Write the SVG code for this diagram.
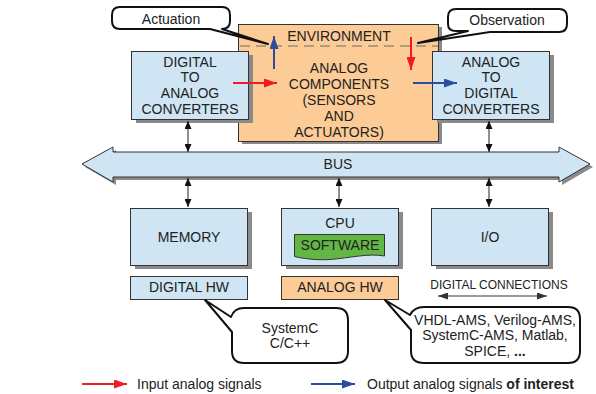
<svg xmlns="http://www.w3.org/2000/svg" width="596" height="394" viewBox="0 0 596 394">
<style>
text{font-family:"Liberation Sans",Arial,sans-serif;font-size:14px;fill:#222;text-anchor:middle}
.blue{fill:#cfe5f3;stroke:#333;stroke-width:1}
.orange{fill:#fdcb96;stroke:#333;stroke-width:1}
.shadow{fill:#8a8a8a}
.callout{fill:#fff;stroke:#111;stroke-width:2;stroke-linejoin:round}
.conn{stroke:#222;stroke-width:1;fill:none}
</style>
<defs>
<marker id="bh" markerUnits="userSpaceOnUse" markerWidth="8" markerHeight="7" refX="8" refY="3.5" orient="auto-start-reverse"><path d="M0,0 L8,3.5 L0,7 Z" fill="#111"/></marker>
<marker id="gh" markerUnits="userSpaceOnUse" markerWidth="10" markerHeight="7" refX="10" refY="3.5" orient="auto-start-reverse"><path d="M0,0 L10,3.5 L0,7 Z" fill="#333"/></marker>
<marker id="rh" markerUnits="userSpaceOnUse" markerWidth="13" markerHeight="9" refX="13" refY="4.5" orient="auto"><path d="M0,0 L13,4.5 L0,9 Z" fill="#ee1c24"/></marker>
<marker id="uh" markerUnits="userSpaceOnUse" markerWidth="13" markerHeight="9" refX="13" refY="4.5" orient="auto"><path d="M0,0 L13,4.5 L0,9 Z" fill="#2b4d9e"/></marker>
</defs>

<g id="environment">
<rect class="shadow" x="242" y="27" width="200" height="117"/>
<rect class="orange" x="238.5" y="24.5" width="200" height="117"/>
<line x1="240" y1="46" x2="438" y2="46" stroke="#6a6a6a" stroke-width="1.2" stroke-dasharray="10,6"/>
<text x="339" y="41">ENVIRONMENT</text>
<text x="339" y="73">ANALOG</text>
<text x="339" y="89">COMPONENTS</text>
<text x="339" y="105">(SENSORS</text>
<text x="339" y="121">AND</text>
<text x="339" y="137">ACTUATORS)</text>
</g>

<g id="dac">
<rect class="shadow" x="136" y="55" width="117" height="68"/>
<rect class="blue" x="131.5" y="51.5" width="117" height="68"/>
<text x="190" y="67">DIGITAL</text>
<text x="190" y="82">TO</text>
<text x="190" y="98">ANALOG</text>
<text x="190" y="114">CONVERTERS</text>
</g>

<g id="adc">
<rect class="shadow" x="437" y="55" width="117" height="68"/>
<rect class="blue" x="432.5" y="51.5" width="117" height="68"/>
<text x="491" y="67">ANALOG</text>
<text x="491" y="82">TO</text>
<text x="491" y="98">DIGITAL</text>
<text x="491" y="114">CONVERTERS</text>
</g>

<g id="actuation">
<path class="callout" d="M120,7 H222 Q230,7 230,15 V21 Q230,29 222,29 L268,44 L210,29 H120 Q112,29 112,21 V15 Q112,7 120,7 Z"/>
<text x="171" y="24">Actuation</text>
</g>

<g id="observation">
<path class="callout" d="M456,9 H559 Q567,9 567,17 V24 Q567,32 559,32 H490 L418,43 L468,31 H456 Q448,31 448,24 V17 Q448,9 456,9 Z"/>
<text x="507" y="25">Observation</text>
</g>

<g id="bus">
<polygon class="shadow" points="85,167 116,150 116,155 562,155 562,150 593,167 562,185 562,180 116,180 116,185"/>
<polygon fill="#cfe5f3" stroke="#333" stroke-width="1" points="82,164 113,147 113,152 559,152 559,147 590,164 559,182 559,177 113,177 113,182"/>
<text x="338" y="169">BUS</text>
</g>

<g id="memory">
<rect class="shadow" x="135" y="212" width="117" height="57"/>
<rect class="blue" x="130.5" y="208.5" width="117" height="57"/>
<text x="189" y="242">MEMORY</text>
</g>

<g id="cpu">
<rect class="shadow" x="286" y="212" width="117" height="57"/>
<rect class="blue" x="281.5" y="208.5" width="117" height="57"/>
<text x="340" y="228">CPU</text>
<path d="M294.5,234.5 H384.5 V256 C368,253 350,258 330,259.5 C315,260.5 300,258 294.5,256.5 Z" fill="#62b744" stroke="#333" stroke-width="1"/>
<text x="340" y="250">SOFTWARE</text>
</g>

<g id="io">
<rect class="shadow" x="436" y="212" width="117" height="57"/>
<rect class="blue" x="431.5" y="208.5" width="117" height="57"/>
<text x="490" y="242">I/O</text>
</g>

<g id="digital-hw">
<rect class="blue" x="130.5" y="276.5" width="117" height="23"/>
<text x="189" y="292">DIGITAL HW</text>
</g>

<g id="analog-hw">
<rect class="orange" x="281.5" y="276.5" width="117" height="23"/>
<text x="340" y="292">ANALOG HW</text>
</g>

<g id="digital-connections">
<text x="499" y="289" style="font-size:12px">DIGITAL CONNECTIONS</text>
<line x1="438" y1="296" x2="547" y2="296" stroke="#333" stroke-width="1" marker-start="url(#gh)" marker-end="url(#gh)"/>
</g>

<g id="systemc">
<path class="callout" d="M244,308 H336 Q348,308 348,320 V351 Q348,363 336,363 H244 Q232,363 232,351 V332 L205,300 L231,317 Q234,308 244,308 Z"/>
<text x="290" y="333">SystemC</text>
<text x="290" y="348">C/C++</text>
</g>

<g id="languages">
<path class="callout" d="M424,307 H568 Q580,307 580,319 V351 Q580,363 568,363 H424 Q411,363 411,351 V330 L385,300 L410,315 Q414,307 424,307 Z"/>
<text x="495" y="325">VHDL-AMS, Verilog-AMS,</text>
<text x="495" y="340">SystemC-AMS, Matlab,</text>
<text x="495" y="356">SPICE, <tspan font-weight="bold">...</tspan></text>
</g>

<g id="connectors">
<line class="conn" x1="188" y1="121" x2="188" y2="152" marker-start="url(#bh)" marker-end="url(#bh)"/>
<line class="conn" x1="489" y1="121" x2="489" y2="152" marker-start="url(#bh)" marker-end="url(#bh)"/>
<line class="conn" x1="188" y1="178" x2="188" y2="207" marker-start="url(#bh)" marker-end="url(#bh)"/>
<line class="conn" x1="339" y1="178" x2="339" y2="207" marker-start="url(#bh)" marker-end="url(#bh)"/>
<line class="conn" x1="489" y1="178" x2="489" y2="207" marker-start="url(#bh)" marker-end="url(#bh)"/>
<line x1="233" y1="83" x2="277" y2="83" stroke="#ee1c24" stroke-width="2" marker-end="url(#rh)"/>
<line x1="274" y1="69" x2="274" y2="36" stroke="#2b4d9e" stroke-width="2" marker-end="url(#uh)"/>
<line x1="411" y1="37" x2="411" y2="70" stroke="#ee1c24" stroke-width="2" marker-end="url(#rh)"/>
<line x1="413" y1="83" x2="457" y2="83" stroke="#2b4d9e" stroke-width="2" marker-end="url(#uh)"/>
</g>

<g id="legend">
<line x1="82" y1="384" x2="127" y2="384" stroke="#ee1c24" stroke-width="2" marker-end="url(#rh)"/>
<text x="137" y="389" style="text-anchor:start">Input analog signals</text>
<line x1="311" y1="384" x2="355" y2="384" stroke="#2b4d9e" stroke-width="2" marker-end="url(#uh)"/>
<text x="367" y="389" style="text-anchor:start">Output analog signals <tspan font-weight="bold">of interest</tspan></text>
</g>
</svg>
